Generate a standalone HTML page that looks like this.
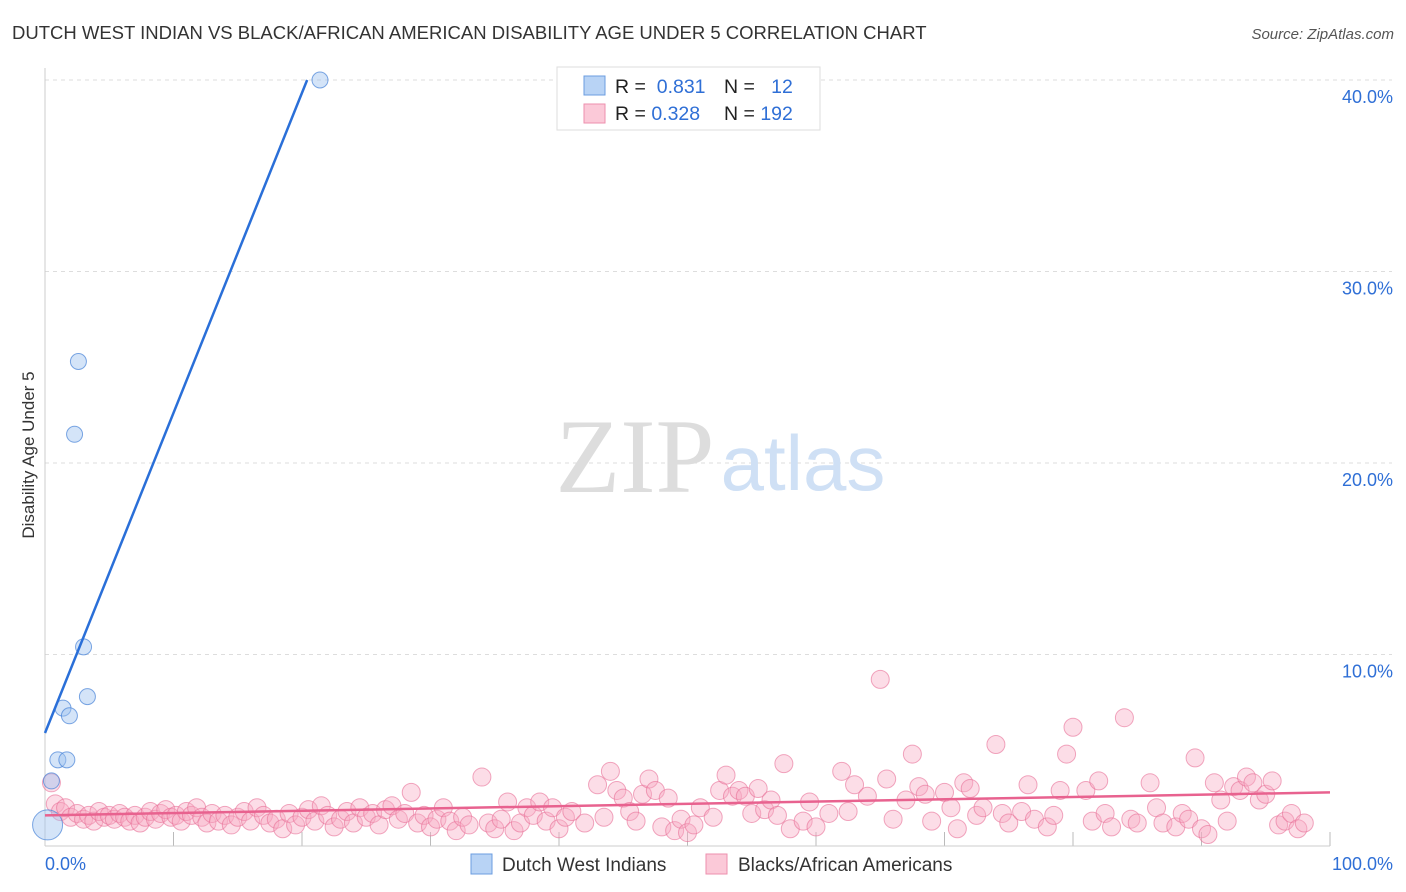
<!DOCTYPE html>
<html><head><meta charset="utf-8"><style>
body{margin:0;background:#fff;font-family:"Liberation Sans",sans-serif;}
svg{display:block}
</style></head><body>
<svg id="chart" width="1406" height="892">
<text x="12" y="39" font-size="18.5" fill="#333">DUTCH WEST INDIAN VS BLACK/AFRICAN AMERICAN DISABILITY AGE UNDER 5 CORRELATION CHART</text>
<text x="1394" y="39" font-size="15" fill="#555" font-style="italic" text-anchor="end">Source: ZipAtlas.com</text>
<g id="grid"></g>
<g>
<text x="635" y="492" font-size="106" fill="#ddd" font-family="Liberation Serif,serif" text-anchor="middle">ZIP</text>
<text x="803" y="490" font-size="78" fill="#cfe0f5" text-anchor="middle">atlas</text>
</g>
<line x1="45" y1="68" x2="45" y2="846" stroke="#ccc"/>
<line x1="45" y1="846" x2="1330" y2="846" stroke="#ccc"/>
<text transform="translate(34,455) rotate(-90)" font-size="17" fill="#333" text-anchor="middle">Disability Age Under 5</text>
<g id="marks"></g>
<g>
<rect x="557" y="67" width="263" height="63" fill="#fff" stroke="#ddd"/>
<rect x="584" y="76" width="21" height="19" fill="#b8d3f5" stroke="#6b9de0"/>
<rect x="584" y="104" width="21" height="19" fill="#fbc9d8" stroke="#ee8fae"/>
<text x="615" y="93" font-size="19.5" fill="#222">R = <tspan fill="#2f6fd6">&#160;0.831</tspan></text>
<text x="724" y="93" font-size="19.5" fill="#222">N = <tspan fill="#2f6fd6">&#160;&#160;12</tspan></text>
<text x="615" y="120" font-size="19.5" fill="#222">R = <tspan fill="#2f6fd6">0.328</tspan></text>
<text x="724" y="120" font-size="19.5" fill="#222">N = <tspan fill="#2f6fd6">192</tspan></text>
</g>
<text x="45" y="870" font-size="18" fill="#2f6fd6">0.0%</text>
<text x="1393" y="870" font-size="18" fill="#2f6fd6" text-anchor="end">100.0%</text>
<g>
<rect x="471" y="854" width="21" height="20" fill="#b8d3f5" stroke="#6b9de0"/>
<text x="502" y="871" font-size="19" fill="#333">Dutch West Indians</text>
<rect x="706" y="854" width="21" height="20" fill="#fbc9d8" stroke="#ee8fae"/>
<text x="738" y="871" font-size="19" fill="#333">Blacks/African Americans</text>
</g>
</svg>
<script>
const yTicks=[10,20,30,40];
const yTickLabels=["10.0%","20.0%","30.0%","40.0%"];
const blueX=[21.4,2.6,2.3,3.0,3.3,1.4,1.9,1.0,1.7,0.5,0.2];
const blueY=[40.0,25.3,21.5,10.4,7.8,7.2,6.8,4.5,4.5,3.4,1.1];
const blueR=[8,8,8,8,8,8,8,8,8,8,15];
const blueLine=[[0,5.9],[20.4,40]];
const pinkLine=[[0,1.6],[100,2.8]];
const pinkPts=[[0.5,3.3],[0.8,2.2],[1.2,1.8],[1.6,2.0],[2,1.5],[2.5,1.7],[3,1.4],[3.4,1.6],[3.8,1.3],[4.2,1.8],[4.6,1.5],[5,1.6],[5.4,1.4],[5.8,1.7],[6.2,1.5],[6.6,1.3],[7,1.6],[7.4,1.2],[7.8,1.5],[8.2,1.8],[8.6,1.4],[9,1.7],[9.4,1.9],[9.8,1.5],[10.2,1.6],[10.6,1.3],[11,1.8],[11.4,1.6],[11.8,2.0],[12.2,1.5],[12.6,1.2],[13,1.7],[13.5,1.3],[14,1.6],[14.5,1.1],[15,1.5],[15.5,1.8],[16,1.3],[16.5,2.0],[17,1.6],[17.5,1.2],[18,1.4],[18.5,0.9],[19,1.7],[19.5,1.1],[20,1.5],[20.5,1.9],[21,1.3],[21.5,2.1],[22,1.6],[22.5,1.0],[23,1.4],[23.5,1.8],[24,1.2],[24.5,2.0],[25,1.5],[25.5,1.7],[26,1.1],[26.5,1.9],[27,2.1],[27.5,1.4],[28,1.7],[28.5,2.8],[29,1.2],[29.5,1.6],[30,1.0],[30.5,1.4],[31,2.0],[31.5,1.3],[32,0.8],[32.5,1.5],[33,1.1],[34,3.6],[34.5,1.2],[35,0.9],[35.5,1.4],[36,2.3],[36.5,0.8],[37,1.2],[37.5,2.0],[38,1.6],[38.5,2.3],[39,1.3],[39.5,2.0],[40,0.9],[40.5,1.5],[41,1.8],[42,1.2],[43,3.2],[43.5,1.5],[44,3.9],[44.5,2.9],[45,2.5],[45.5,1.8],[46,1.3],[46.5,2.7],[47,3.5],[47.5,2.9],[48,1.0],[48.5,2.5],[49,0.8],[49.5,1.4],[50,0.7],[50.5,1.1],[51,2.0],[52,1.5],[52.5,2.9],[53,3.7],[53.5,2.6],[54,2.9],[54.5,2.6],[55,1.7],[55.5,3.0],[56,1.9],[56.5,2.4],[57,1.6],[57.5,4.3],[58,0.9],[59,1.3],[59.5,2.3],[60,1.0],[61,1.7],[62,3.9],[62.5,1.8],[63,3.2],[64,2.6],[65,8.7],[65.5,3.5],[66,1.4],[67,2.4],[67.5,4.8],[68,3.1],[68.5,2.7],[69,1.3],[70,2.8],[70.5,2.0],[71,0.9],[71.5,3.3],[72,3.0],[72.5,1.6],[73,2.0],[74,5.3],[74.5,1.7],[75,1.2],[76,1.8],[76.5,3.2],[77,1.4],[78,1.0],[78.5,1.6],[79,2.9],[79.5,4.8],[80,6.2],[81,2.9],[81.5,1.3],[82,3.4],[82.5,1.7],[83,1.0],[84,6.7],[84.5,1.4],[85,1.2],[86,3.3],[86.5,2.0],[87,1.2],[88,1.0],[88.5,1.7],[89,1.4],[89.5,4.6],[90,0.9],[90.5,0.6],[91,3.3],[91.5,2.4],[92,1.3],[92.5,3.1],[93,2.9],[93.5,3.6],[94,3.3],[94.5,2.4],[95,2.7],[95.5,3.4],[96,1.1],[96.5,1.3],[97,1.7],[97.5,0.9],[98,1.2]];
const NS="http://www.w3.org/2000/svg";
const X=v=>45+v*12.85, Y=v=>846-v*19.15;
const grid=document.getElementById('grid'), marks=document.getElementById('marks');
function mk(tag,attrs,parent){const e=document.createElementNS(NS,tag);for(const k in attrs)e.setAttribute(k,attrs[k]);parent.appendChild(e);return e;}
yTicks.forEach((t,i)=>{
  const l=mk('line',{x1:45,x2:1392,y1:Y(t),y2:Y(t),stroke:'#ddd','stroke-dasharray':'4,4'},grid);
  
  
  const tx=mk('text',{x:1393,y:Y(t)+23,'font-size':18,fill:'#2f6fd6','text-anchor':'end'},grid);
  tx.textContent=yTickLabels[i];
  
  
});
for(let k=1;k<=10;k++){
  const l=mk('line',{x1:X(k*10),x2:X(k*10),y1:846,y2:832,stroke:'#bbb'},grid);
  
  
}
pinkPts.forEach(p=>{
  const c=mk('circle',{cx:X(p[0]),cy:Y(p[1]),r:9,fill:'rgba(248,170,195,0.4)',stroke:'rgba(232,110,150,0.6)','stroke-width':1},marks);
  
  
});
blueX.forEach((x,i)=>{
  const c=mk('circle',{cx:X(x),cy:Y(blueY[i]),r:blueR[i],fill:'rgba(160,195,240,0.45)',stroke:'rgba(70,130,215,0.7)','stroke-width':1},marks);
  
  
});
const bl=mk('line',{x1:X(blueLine[0][0]),y1:Y(blueLine[0][1]),x2:X(blueLine[1][0]),y2:Y(blueLine[1][1]),stroke:'#2a6fd8','stroke-width':2.5},marks);


const pl=mk('line',{x1:X(pinkLine[0][0]),y1:Y(pinkLine[0][1]),x2:X(pinkLine[1][0]),y2:Y(pinkLine[1][1]),stroke:'#e8628f','stroke-width':2.5},marks);


</script>
</body></html>
